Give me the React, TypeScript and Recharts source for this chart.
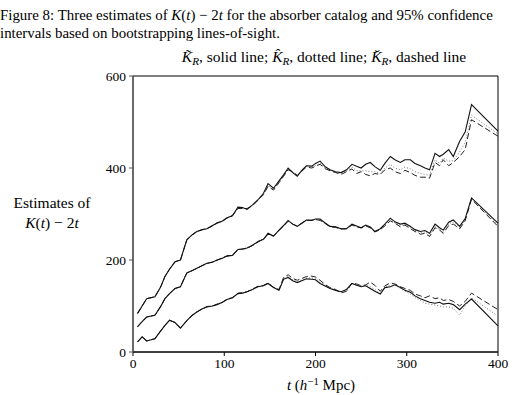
import React from "react"
import { LineChart, Line, XAxis, YAxis, ReferenceArea } from "recharts"

// t grid (h^-1 Mpc) shared by all curves
const tValues = [5, 10, 15, 24, 30, 35, 40, 46, 52, 59, 65, 70, 76, 81, 87, 92, 98, 103, 109, 115, 120, 125, 131, 137, 143, 148, 154, 160, 165, 170, 175, 180, 185, 190, 196, 200, 205, 211, 216, 222, 228, 234, 240, 245, 250, 255, 260, 265, 271, 276, 282, 287, 293, 298, 304, 309, 315, 320, 325, 331, 336, 340, 346, 351, 358, 364, 371, 400]

// upper band
const topSolid = [84, 100, 116, 120, 140, 164, 180, 196, 200, 244, 255, 262, 266, 268, 275, 280, 285, 292, 296, 315, 314, 310, 320, 331, 345, 366, 356, 372, 385, 400, 390, 382, 395, 405, 404, 410, 415, 402, 396, 392, 390, 396, 408, 404, 400, 408, 412, 403, 395, 410, 425, 418, 412, 418, 418, 410, 405, 400, 396, 432, 425, 430, 440, 425, 458, 478, 538, 480]
const topDotted = [84, 100, 116, 120, 140, 164, 180, 196, 200, 244, 255, 262, 266, 268, 274, 280, 284, 291, 296, 313, 313, 311, 319, 330, 343, 362, 354, 370, 383, 398, 391, 383, 394, 403, 402, 406, 410, 399, 395, 391, 388, 394, 402, 394, 394, 394, 392, 392, 388, 400, 408, 400, 396, 402, 398, 392, 388, 386, 384, 418, 410, 422, 415, 416, 435, 455, 515, 474]
const topDashed = [84, 100, 116, 120, 140, 164, 180, 196, 200, 244, 255, 262, 266, 268, 274, 281, 284, 291, 297, 312, 312, 312, 318, 330, 342, 360, 352, 368, 382, 396, 392, 384, 393, 402, 400, 404, 408, 398, 394, 390, 386, 392, 398, 388, 392, 386, 383, 388, 386, 396, 400, 392, 388, 395, 390, 384, 380, 380, 378, 412, 405, 418, 405, 412, 425, 440, 505, 469]

// middle band
const midSolid = [55, 66, 76, 80, 98, 116, 127, 138, 142, 172, 177, 182, 188, 193, 195, 200, 204, 209, 210, 223, 224, 226, 232, 240, 245, 258, 252, 265, 275, 286, 278, 273, 280, 287, 286, 289, 289, 280, 273, 272, 268, 268, 278, 274, 270, 276, 272, 262, 268, 278, 291, 283, 278, 280, 273, 266, 262, 264, 258, 278, 270, 265, 282, 287, 273, 290, 335, 280]
const midDotted = [55, 66, 76, 80, 98, 116, 127, 138, 142, 172, 177, 182, 188, 193, 195, 200, 204, 209, 210, 223, 224, 226, 231, 240, 245, 257, 252, 265, 275, 285, 278, 273, 280, 287, 286, 289, 288, 280, 273, 272, 268, 268, 277, 273, 270, 275, 271, 262, 267, 276, 288, 281, 275, 278, 270, 264, 259, 261, 254, 274, 267, 261, 279, 283, 270, 288, 334, 277]
const midDashed = [55, 66, 76, 80, 98, 116, 127, 138, 142, 172, 177, 182, 188, 192, 196, 199, 205, 208, 211, 222, 224, 225, 232, 239, 246, 256, 252, 264, 274, 284, 278, 274, 280, 286, 287, 288, 286, 279, 272, 271, 267, 268, 276, 272, 270, 274, 270, 261, 266, 274, 285, 280, 272, 276, 268, 262, 256, 258, 251, 270, 265, 258, 275, 278, 268, 285, 332, 273]

// lower band
const botSolid = [22, 33, 24, 29, 45, 58, 69, 64, 52, 68, 80, 87, 94, 98, 100, 103, 108, 114, 118, 127, 128, 131, 136, 142, 144, 149, 140, 134, 158, 162, 155, 151, 155, 159, 158, 157, 149, 143, 138, 134, 131, 136, 149, 145, 142, 144, 138, 132, 126, 140, 142, 146, 140, 134, 130, 122, 116, 112, 108, 106, 108, 104, 106, 103, 92, 104, 115, 57]
const botDotted = [22, 33, 24, 29, 45, 58, 69, 64, 52, 68, 80, 87, 94, 98, 100, 103, 108, 114, 118, 127, 128, 131, 136, 142, 144, 149, 140, 134, 160, 164, 157, 153, 157, 161, 161, 160, 152, 144, 139, 135, 130, 134, 149, 146, 143, 145, 142, 136, 128, 141, 144, 146, 138, 132, 126, 118, 112, 106, 104, 102, 100, 98, 98, 95, 80, 100, 118, 78]
const botDashed = [22, 33, 24, 29, 45, 58, 69, 64, 52, 68, 80, 87, 94, 99, 100, 104, 108, 115, 118, 128, 129, 131, 137, 143, 145, 150, 141, 136, 162, 168, 160, 156, 160, 164, 165, 163, 156, 146, 140, 136, 128, 132, 150, 148, 144, 146, 152, 145, 132, 144, 150, 148, 142, 138, 134, 126, 122, 118, 122, 116, 118, 112, 114, 110, 100, 110, 128, 92]

const xTicks = [0, 100, 200, 300, 400]
const yTicks = [0, 200, 400, 600]

const rows = tValues.map((t, i) => ({
  t,
  topSolid: topSolid[i],
  topDotted: topDotted[i],
  topDashed: topDashed[i],
  midSolid: midSolid[i],
  midDotted: midDotted[i],
  midDashed: midDashed[i],
  botSolid: botSolid[i],
  botDotted: botDotted[i],
  botDashed: botDashed[i],
}))

const serif = '"Liberation Serif", "DejaVu Serif", serif'
const tickStyle = { fontFamily: serif, fontSize: 13.5, fill: "#000" }

const styles: Record<string, { stroke: string; dash?: string; width: number }> = {
  Solid: { stroke: "#111", width: 1.1 },
  Dotted: { stroke: "#777", dash: "1 2", width: 1 },
  Dashed: { stroke: "#222", dash: "6 3", width: 1 },
}

const lowered = { position: "relative" as const, top: "0.3em", fontSize: "0.72em", verticalAlign: "baseline" }
const raised = { position: "relative" as const, top: "-0.45em", fontSize: "0.72em", verticalAlign: "baseline" }

export default function App() {
  const series = ["top", "mid", "bot"].flatMap((band) =>
    ["Dotted", "Dashed", "Solid"].map((kind) => ({ key: band + kind, ...styles[kind] }))
  )
  return (
    <div style={{ position: "absolute", left: 0, top: 0, width: 524, height: 395, background: "#fff", fontFamily: serif, color: "#000" }}>
      <div style={{ position: "absolute", left: 0, top: 6, fontSize: 14.9, lineHeight: "18px", whiteSpace: "nowrap" }}>
        Figure 8: Three estimates of <i>K</i>(<i>t</i>) − 2<i>t</i> for the absorber catalog and 95% confidence
        <br />
        intervals based on bootstrapping lines-of-sight.
      </div>
      <div style={{ position: "absolute", left: 324, top: 48, transform: "translateX(-50%)", fontSize: 15.5, lineHeight: "18px", whiteSpace: "nowrap" }}>
        <i>K̃</i><span style={lowered}><i>R</i></span>, solid line; <i>K̂</i><span style={lowered}><i>R</i></span>, dotted line; <i>K̆</i><span style={lowered}><i>R</i></span>, dashed line
      </div>
      <div style={{ position: "absolute", left: 52, top: 193, transform: "translateX(-50%)", fontSize: 15.5, lineHeight: "20px", textAlign: "center", whiteSpace: "nowrap" }}>
        Estimates of
        <br />
        <i>K</i>(<i>t</i>) − 2<i>t</i>
      </div>
      <div style={{ position: "absolute", left: 321, top: 376, transform: "translateX(-50%)", fontSize: 15, lineHeight: "18px", whiteSpace: "nowrap" }}>
        <i>t</i> (<i>h</i><span style={raised}>−1</span> Mpc)
      </div>
      <div style={{ position: "absolute", left: 0, top: 0 }}>
        <LineChart width={524} height={395} data={rows} margin={{ top: 76, right: 26, bottom: 13, left: 93 }}>
          <XAxis
            dataKey="t"
            type="number"
            domain={[0, 400]}
            ticks={xTicks}
            tick={tickStyle}
            tickSize={4}
            tickMargin={2}
            height={30}
            stroke="#000"
          />
          <YAxis
            type="number"
            domain={[0, 600]}
            ticks={yTicks}
            tick={tickStyle}
            tickSize={4}
            tickMargin={3}
            width={40}
            stroke="#555"
          />
          <ReferenceArea x1={0} x2={400} y1={0} y2={600} fill="none" stroke="#000" strokeWidth={1} fillOpacity={0} />
          {series.map((s) => (
            <Line
              key={s.key}
              dataKey={s.key}
              type="linear"
              stroke={s.stroke}
              strokeWidth={s.width}
              strokeDasharray={s.dash}
              dot={false}
              isAnimationActive={false}
            />
          ))}
        </LineChart>
      </div>
    </div>
  )
}
